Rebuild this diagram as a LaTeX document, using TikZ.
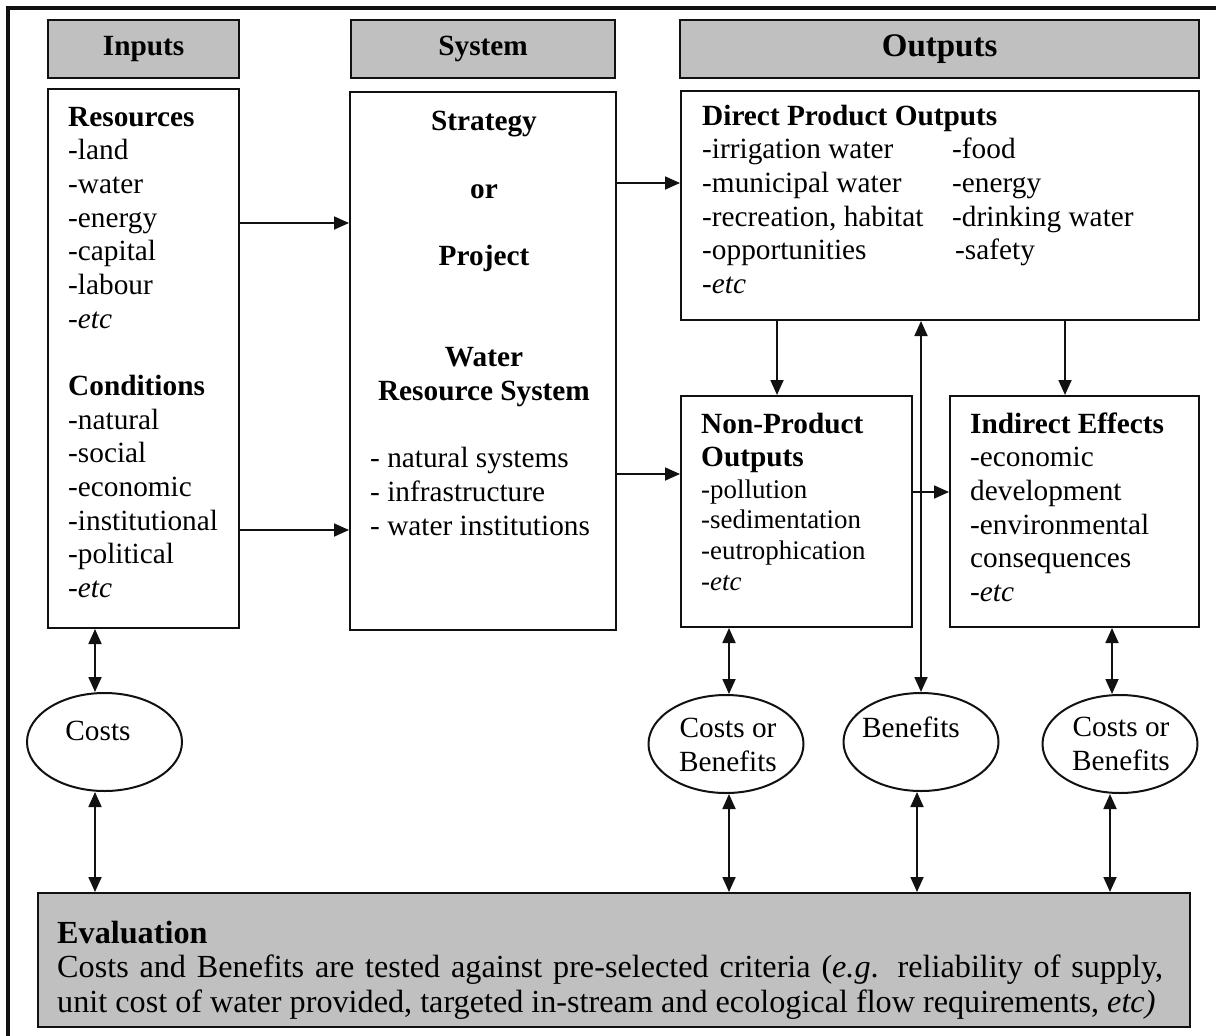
\documentclass[tikz,border=0pt]{standalone}
\usepackage{fontspec}
\setmainfont{Liberation Serif}
\usetikzlibrary{arrows.meta,positioning,shapes.geometric}
\definecolor{panelgray}{HTML}{C0C0C0}
\definecolor{ink}{HTML}{111111}
\newcommand\bodysize{\fontsize{29.3}{33.67}\selectfont}
\newcommand\smallsize{\fontsize{26.9}{30.6}\selectfont}
\newcommand\headsize{\fontsize{29.3}{33.67}\selectfont\bfseries}
\newcommand\bigheadsize{\fontsize{33}{38}\selectfont\bfseries}
\newcommand\evalsize{\fontsize{32.2}{34.5}\selectfont}
\tikzset{
    every picture/.style={line join=miter},
    headbox/.style={draw=ink,fill=panelgray,line width=2.2pt,anchor=north west,
      minimum height=58pt,inner sep=0pt,font=\headsize},
    framebox/.style={draw=ink,fill=white,line width=2pt,anchor=north west,
      inner sep=0pt},
    valuenode/.style={draw=ink,ellipse,line width=2pt,minimum width=155pt,
      minimum height=98pt,inner sep=0pt},
    boxtext/.style={anchor=north west,inner sep=0pt,align=left,font=\bodysize},
    flowarrow/.style={-{Triangle[length=15pt,width=13pt]},draw=ink,
      line width=1.8pt},
    twoway/.style={{Triangle[length=15pt,width=13pt]}-{Triangle[length=15pt,width=13pt]},
      draw=ink,line width=1.8pt}
}

\begin{document}
\begin{tikzpicture}[x=1pt,y=-1pt]
  \useasboundingbox (0,0) rectangle (1216,1036);
  \draw[ink,line width=3.5pt] (8,1036) -- (8,8) -- (1216,8);

  % column headers
  \node[headbox,minimum width=191pt] (inhead) at (47,19) {Inputs};
  \node[headbox,minimum width=264pt] (syshead) at (350,19) {System};
  \node[headbox,minimum width=519pt,font=\bigheadsize] (outhead) at (679,19) {Outputs};

  % boxes
  \node[framebox,minimum width=191pt,minimum height=539pt] (inbox) at (47,88) {};
  \node[framebox,minimum width=266pt,minimum height=538pt] (sysbox) at (349,91) {};
  \node[framebox,minimum width=518pt,minimum height=229pt] (dpbox) at (680,90) {};
  \node[framebox,minimum width=231pt,minimum height=231pt] (npbox) at (680,395) {};
  \node[framebox,minimum width=249pt,minimum height=231pt] (iebox) at (949,395) {};
  \node[headbox,minimum width=1152pt,minimum height=134pt] (evalbox) at (37,892) {};

  % box texts
  \node[boxtext] (intext) at (68,102.4) {\strut\textbf{Resources}\\-land\\-water\\-energy\\-capital\\-labour\\\textit{-etc}\\[33.67pt]\textbf{Conditions}\\-natural\\-social\\-economic\\-institutional\\-political\\\textit{-etc}};
  \node[boxtext,anchor=north,align=center,font=\headsize] (systitle) at (484,107) {\strut Strategy\\[33.67pt]or\\[33.67pt]Project\\[67.34pt]Water\\Resource System};
  \node[boxtext] (syslist) at (370,444) {\strut- natural systems\\- infrastructure\\- water institutions};
  \node[boxtext] (dptext) at (702,101.4) {\strut\textbf{Direct Product Outputs}\\-irrigation water\\-municipal water\\-recreation, habitat\\-opportunities\\\textit{-etc}};
  \node[boxtext] (dpright) at (952,135) {\strut-food\\-energy\\-drinking water\\\hspace{3pt}-safety};
  \node[boxtext,font=\headsize] (nptitle) at (701,409.4) {\strut Non-Product\\Outputs};
  \node[boxtext,font=\smallsize] (nplist) at (701,476.6) {\strut-pollution\\-sedimentation\\-eutrophication\\\textit{-etc}};
  \node[boxtext] (ietext) at (970,409.4) {\strut\textbf{Indirect Effects}\\-economic\\development\\-environmental\\consequences\\\textit{-etc}};
  \node[boxtext,font=\evalsize] (evaltext) at (57,919) {\strut\textbf{Evaluation}\\\makebox[1106pt][s]{Costs and Benefits are tested against pre-selected criteria (\textit{e.g}. reliability of supply,}\\unit cost of water provided, targeted in-stream and ecological flow requirements, \textit{etc)}};

  % costs and benefits
  \node[valuenode] (costs) at (104.5,742) {};
  \node[valuenode] (cbnp) at (726,744) {};
  \node[valuenode] (benefits) at (921,742) {};
  \node[valuenode] (cbie) at (1120,744) {};
  \node[font=\bodysize,anchor=base,inner sep=0pt] (costslbl) at (98,740) {Costs};
  \node[boxtext,anchor=north,align=center] (cbnplbl) at (728,714) {\strut Costs or\\Benefits};
  \node[font=\bodysize,anchor=base,inner sep=0pt] (benefitslbl) at (911,737) {Benefits};
  \node[boxtext,anchor=north,align=center] (cbielbl) at (1121,713) {\strut Costs or\\Benefits};

  % flows
  \draw[flowarrow] (inbox.east |- 0,223) -- (sysbox.west |- 0,223);
  \draw[flowarrow] (inbox.east |- 0,530) -- (sysbox.west |- 0,530);
  \draw[flowarrow] (sysbox.east |- 0,183) -- (dpbox.west |- 0,183);
  \draw[flowarrow] (sysbox.east |- 0,474) -- (npbox.west |- 0,474);
  \draw[flowarrow] (npbox.east |- 0,492) -- (iebox.west |- 0,492);
  \draw[flowarrow] (dpbox.south -| 777,0) -- (npbox.north -| 777,0);
  \draw[flowarrow] (dpbox.south -| 1065,0) -- (iebox.north -| 1065,0);
  \draw[twoway] (dpbox.south -| 921,0) -- (benefits.north -| 921,0);

  % valuation links
  \draw[twoway] (inbox.south -| 95,0) -- (costs.north -| 95,0);
  \draw[twoway] (costs.south -| 95,0) -- (evalbox.north -| 95,0);
  \draw[twoway] (npbox.south -| 729,0) -- (cbnp.north -| 729,0);
  \draw[twoway] (cbnp.south -| 729,0) -- (evalbox.north -| 729,0);
  \draw[twoway] (benefits.south -| 917,0) -- (evalbox.north -| 917,0);
  \draw[twoway] (iebox.south -| 1112,0) -- (cbie.north -| 1112,0);
  \draw[twoway] (cbie.south -| 1110,0) -- (evalbox.north -| 1110,0);
\end{tikzpicture}
\end{document}
